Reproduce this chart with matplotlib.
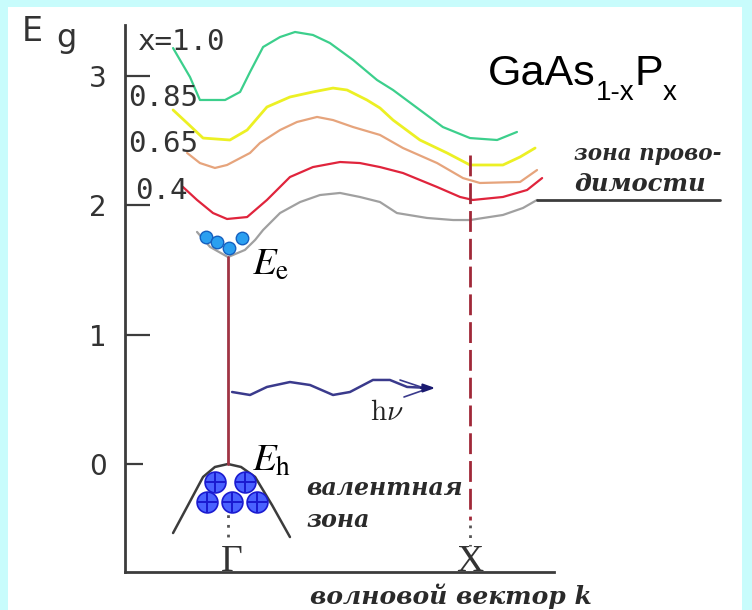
import matplotlib
matplotlib.use('Agg')
import matplotlib.pyplot as plt
from matplotlib.patches import Rectangle

plt.rcParams['lines.scale_dashes'] = False
plt.rcParams['lines.solid_joinstyle'] = 'round'
plt.rcParams['lines.solid_capstyle'] = 'round'

# ---------------- data (k in units of Gamma->X, energy in eV) ----------------
tick_values = [0, 1, 2, 3]
curve_labels = ['x=1.0', '0.85', '0.65', '0.4']

k_x100 = [-0.227, -0.157, -0.116, -0.012, 0.050, 0.091, 0.145, 0.215, 0.277, 0.351,
          0.421, 0.517, 0.616, 0.682, 0.793, 0.888, 1.000, 1.112, 1.194]
E_x100 = [3.212, 2.988, 2.811, 2.811, 2.873, 3.027, 3.220, 3.297, 3.336, 3.313,
          3.251, 3.120, 2.965, 2.888, 2.734, 2.602, 2.517, 2.502, 2.564]

k_x085 = [-0.227, -0.169, -0.103, 0.008, 0.079, 0.161, 0.256, 0.351, 0.434, 0.492,
          0.574, 0.628, 0.682, 0.793, 0.905, 1.000, 1.136, 1.207, 1.269]
E_x085 = [2.734, 2.633, 2.517, 2.502, 2.579, 2.757, 2.834, 2.873, 2.903, 2.888,
          2.811, 2.749, 2.656, 2.502, 2.402, 2.309, 2.309, 2.371, 2.440]

k_x065 = [-0.169, -0.116, -0.054, -0.004, 0.091, 0.132, 0.215, 0.285, 0.368, 0.434,
          0.517, 0.628, 0.723, 0.864, 0.971, 1.041, 1.207, 1.277]
E_x065 = [2.402, 2.324, 2.286, 2.309, 2.402, 2.479, 2.579, 2.641, 2.680, 2.656,
          2.602, 2.541, 2.440, 2.324, 2.208, 2.170, 2.178, 2.270]

k_x040 = [-0.186, -0.128, -0.062, -0.004, 0.079, 0.161, 0.256, 0.351, 0.463, 0.545,
          0.628, 0.723, 0.864, 0.959, 1.012, 1.136, 1.236, 1.298]
E_x040 = [2.139, 2.039, 1.938, 1.892, 1.907, 2.039, 2.216, 2.293, 2.332, 2.324,
          2.293, 2.247, 2.139, 2.062, 2.039, 2.062, 2.116, 2.208]

k_x000 = [-0.128, -0.074, 0.000, 0.070, 0.112, 0.145, 0.215, 0.298, 0.380, 0.463,
          0.545, 0.628, 0.698, 0.822, 0.930, 1.000, 1.136, 1.219, 1.277]
E_x000 = [1.792, 1.676, 1.598, 1.653, 1.730, 1.807, 1.938, 2.023, 2.077, 2.093,
          2.062, 2.023, 1.938, 1.900, 1.884, 1.884, 1.923, 1.977, 2.039]

k_cb_pointer = [1.277, 2.033]
E_cb_pointer = [2.039, 2.039]

k_valence = [-0.227, -0.165, -0.103, -0.054, 0.000, 0.054, 0.112, 0.182, 0.256]
E_valence = [-0.533, -0.317, -0.100, -0.023, 0.000, -0.023, -0.100, -0.317, -0.564]

k_electrons = [-0.091, -0.045, 0.004, 0.058]
E_electrons = [1.753, 1.714, 1.668, 1.745]

k_holes = [-0.054, 0.070, -0.087, 0.017, 0.120]
E_holes = [-0.139, -0.139, -0.293, -0.293, -0.293]

k_photon = [0.017, 0.091, 0.161, 0.256, 0.339, 0.434, 0.504, 0.599, 0.669, 0.740, 0.835]
E_photon = [0.556, 0.533, 0.595, 0.633, 0.610, 0.533, 0.556, 0.649, 0.649, 0.595, 0.587]

E_gamma_transition = [1.598, 0.0]
E_x_dashed = [2.386, -0.432]

# ---------------- figure ----------------
W, H = 752, 610
fig = plt.figure(figsize=(W / 100, H / 100), dpi=100, facecolor='#c8fcfc')
fig.patches.append(Rectangle((8 / W, 0), (742 - 8) / W, (H - 7) / H,
                             transform=fig.transFigure, facecolor='white',
                             edgecolor='none', zorder=-5))

ax = fig.add_axes([125 / W, (H - 572) / H, (554 - 125) / W, (572 - 25) / H])
ax.set_xlim(-0.4256, 1.3471)
ax.set_ylim(-0.834, 3.390)
ax.patch.set_alpha(0)
for s in ['top', 'right']:
    ax.spines[s].set_visible(False)
for s in ['left', 'bottom']:
    ax.spines[s].set_color('#3c3c3c')
    ax.spines[s].set_linewidth(2.0)

ax.set_xticks([])
ax.set_yticks(tick_values[1:])
ax.set_yticklabels([str(v) for v in tick_values[1:]])
ax.set_yticks(tick_values[:1], minor=True)
ax.set_yticklabels([str(v) for v in tick_values[:1]], minor=True)
ax.tick_params(axis='y', which='major', direction='in', length=18, width=1.6,
               color='#3c3c3c', labelsize=20, labelcolor='#333333', pad=13)
ax.tick_params(axis='y', which='minor', direction='in', length=13, width=1.6,
               color='#3c3c3c', labelsize=20, labelcolor='#333333', pad=13)


def P(px, py):
    return ax.transData.inverted().transform((px, H - py))


lw = 1.6
ax.plot(k_x100, E_x100, color='#3ccf8c', lw=lw, clip_on=False)
ax.plot(k_x085, E_x085, color='#ecf024', lw=lw + 0.4, clip_on=False)
ax.plot(k_x065, E_x065, color='#e6a47c', lw=lw, clip_on=False)
ax.plot(k_x040, E_x040, color='#e0243c', lw=lw, clip_on=False)
ax.plot(k_x000, E_x000, color='#a0a0a0', lw=lw, clip_on=False)
ax.plot(k_cb_pointer, E_cb_pointer, color='#3c3c3c', lw=2.0, clip_on=False)

# valence band
ax.plot(k_valence, E_valence, color='#3c3c3c', lw=1.8, clip_on=False)

# vertical transitions / symmetry points
ax.plot([0, 0], E_gamma_transition, color='#a03444', lw=2.0)
ax.plot([0, 0], [-0.32, -0.59], color='#555555', lw=2.0, ls=(0, (2, 5)))
ax.plot([1, 1], E_x_dashed, color='#a02838', lw=2.0, ls=(0, (15, 5)))
ax.plot([1, 1], [-0.47, -0.63], color='#555555', lw=2.0, ls=(0, (2, 5)))

# electrons and holes
ax.plot(k_electrons, E_electrons, 'o', ms=9, mfc='#2a9ff0', mec='#1560c0', mew=1.0, zorder=5)
ax.plot(k_holes, E_holes, 'o', ms=15, mfc='#4a62ff', mec='#1a1ad0', mew=1.2, zorder=5)
ax.plot(k_holes, E_holes, '+', ms=14, mec='#1a1ad0', mew=1.4, zorder=6)

# photon
ax.plot(k_photon, E_photon, color='#3a3a8c', lw=1.8, clip_on=False)
ax.annotate('', xy=P(438, 388), xytext=P(418, 388),
            arrowprops=dict(arrowstyle='-|>,head_length=0.7,head_width=0.25',
                            color='#1a1a70', lw=1.5))
for a, b in [((400, 380), (424, 388)), ((404, 397), (424, 390))]:
    pa, pb = P(*a), P(*b)
    ax.plot([pa[0], pb[0]], [pa[1], pb[1]], color='#3a3a8c', lw=1.2)

# ---------------- texts ----------------
dark = '#333333'
mono = 'DejaVu Sans Mono'
for lab, (px, py) in zip(curve_labels, [(138, 50), (128, 106), (128, 152), (135, 199)]):
    ax.text(*P(px, py), lab, family=mono, fontsize=21, color=dark,
            ha='left', va='baseline')

ax.text(*P(22, 41), 'E', family='DejaVu Sans', fontsize=24, color=dark, va='baseline')
ax.text(*P(56, 47), 'g', family='DejaVu Sans', fontsize=23, color=dark, va='baseline')

ax.text(*P(252, 275), r'$E_{\mathrm{e}}$', fontsize=28, math_fontfamily='stix',
        color='black', va='baseline')
ax.text(*P(252, 471), r'$E_{\mathrm{h}}$', fontsize=28, math_fontfamily='stix',
        color='black', va='baseline')
ax.text(*P(370, 420), r'$\mathrm{h}\nu$', fontsize=21, math_fontfamily='cm',
        color='#222222', va='baseline')

serif = 'Liberation Serif'
ax.text(*P(232, 571), 'Γ', family=serif, fontsize=27, color=dark, ha='center', va='baseline')
ax.text(*P(470, 571), 'X', family=serif, fontsize=27, color=dark, ha='center', va='baseline')

rus = dict(family='DejaVu Serif', style='italic', weight='bold', color='#2a2a2a',
           fontsize=17, va='baseline', ha='left')
ax.text(*P(306, 495), 'валентная', **rus)
ax.text(*P(306, 527), 'зона', **rus)
ax.text(*P(574, 160), 'зона прово-', **dict(rus, fontsize=15.5))
ax.text(*P(574, 191), 'димости', **dict(rus, fontsize=17.5))
ax.text(*P(310, 604), 'волновой вектор k', **dict(rus, fontsize=18))

# GaAs1-xPx composite label
fig.canvas.draw()
r = fig.canvas.get_renderer()
sans = 'Liberation Sans'
base, sub = 85, 100
t1 = fig.text(488 / W, (H - base) / H, 'GaAs', family=sans, fontsize=31, va='baseline')
b1 = t1.get_window_extent(r)
t2 = fig.text(b1.x1 / W, (H - sub) / H, '1-x', family=sans, fontsize=20, va='baseline')
b2 = t2.get_window_extent(r)
t3 = fig.text(b2.x1 / W, (H - base) / H, 'P', family=sans, fontsize=31, va='baseline')
b3 = t3.get_window_extent(r)
fig.text(b3.x1 / W, (H - sub) / H, 'x', family=sans, fontsize=20, va='baseline')

fig.savefig('out.png', dpi=100, facecolor=fig.get_facecolor())
